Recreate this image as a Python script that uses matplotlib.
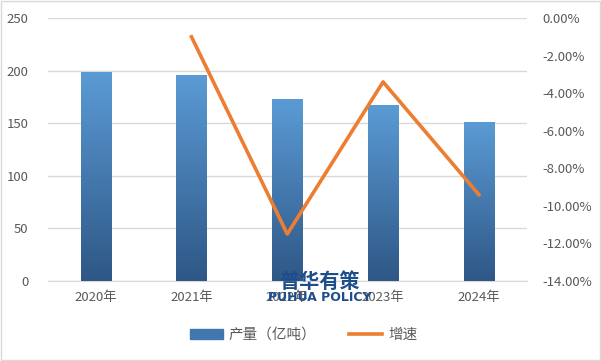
import matplotlib
matplotlib.use('Agg')
import matplotlib.pyplot as plt
import numpy as np
from matplotlib.colors import LinearSegmentedColormap
from matplotlib.patches import Rectangle
from matplotlib.lines import Line2D

plt.rcParams['font.family'] = ['Noto Sans CJK SC', 'DejaVu Sans']

# data
years = ['2020年', '2021年', '2022年', '2023年', '2024年']
output = [199, 196, 173, 167, 151]
growth = [np.nan, -1.0, -11.5, -3.4, -9.4]

left_ticks = [0, 50, 100, 150, 200, 250]
right_ticks = [0, -2, -4, -6, -8, -10, -12, -14]

grey = '#595959'
bar_top = '#5B9BD5'
bar_bottom = '#2E5786'

fig = plt.figure(figsize=(6.01, 3.61), dpi=100)
fig.patches.append(Rectangle((0.002, 0.003), 0.996, 0.994, transform=fig.transFigure,
                             fill=False, edgecolor='#D9D9D9', linewidth=1))
ax = fig.add_axes([0.0795, 0.2216, 0.797, 0.7284])
x = np.arange(len(years))

bars = ax.bar(x, output, width=0.315, color='#3F77AE', zorder=2)
cmap = LinearSegmentedColormap.from_list('g', [bar_bottom, bar_top])
grad = np.linspace(0, 1, 256).reshape(-1, 1)
for b in bars:
    im = ax.imshow(grad, cmap=cmap, origin='lower', aspect='auto', zorder=3,
                   extent=[b.get_x(), b.get_x() + b.get_width(), 0, b.get_height()])
    im.set_clip_path(b)

ax.set_xlim(-0.5, 4.5)
ax.set_ylim(0, 250)
ax.set_yticks(left_ticks)
ax.set_xticks(x)
ax.set_xticklabels(years)
ax.grid(axis='y', color='#D9D9D9', linewidth=1, zorder=0)
ax.set_axisbelow(True)
for s in ['top', 'right', 'left']:
    ax.spines[s].set_visible(False)
ax.spines['bottom'].set_color('#D9D9D9')
ax.tick_params(axis='both', length=0, colors=grey, labelsize=9.5)
ax.tick_params(axis='y', pad=14)
ax.tick_params(axis='x', pad=7)

ax2 = ax.twinx()
ax2.plot(x, growth, color='#ED7D31', linewidth=2.6, zorder=4)
ax2.set_ylim(-14, 0)
ax2.set_yticks(right_ticks)
ax2.set_yticklabels([f'{v:.2f}%' for v in right_ticks])
for s in ax2.spines.values():
    s.set_visible(False)
ax2.tick_params(axis='y', length=0, colors=grey, labelsize=9.5, pad=11)

# watermark
fig.text(0.531, 0.219, '普华有策', ha='center', va='center', fontsize=14.5,
         fontweight='bold', color='#1F4E8C', zorder=10)
fig.text(0.532, 0.175, 'PUHUA POLICY', ha='center', va='center', fontsize=9,
         fontweight='bold', color='#1F4E8C', zorder=10,
         family=['Liberation Sans Narrow', 'DejaVu Sans'])

handles = [Rectangle((0, 0), 1, 1, color='#3F77AE'),
           Line2D([0], [0], color='#ED7D31', linewidth=2.6)]
fig.legend(handles, ['产量（亿吨）', '增速'], loc='center', bbox_to_anchor=(0.505, 0.072),
           ncol=2, frameon=False, fontsize=10.5, labelcolor=grey,
           handlelength=2.3, handletextpad=0.4, columnspacing=2.2)

fig.savefig('out.png', dpi=100)
